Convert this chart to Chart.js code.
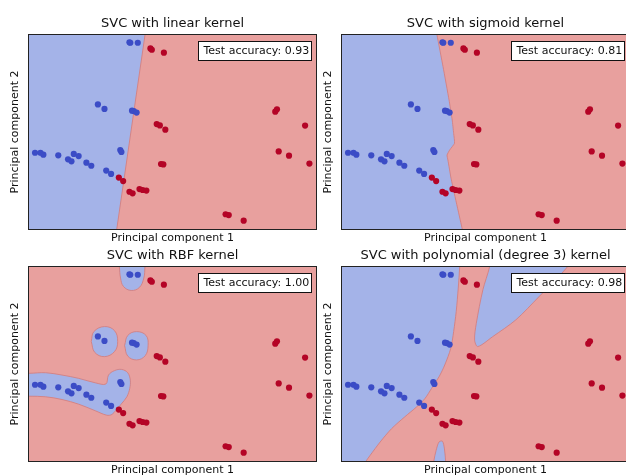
<!DOCTYPE html>
<html>
<head>
<meta charset="utf-8">
<script src="https://cdn.jsdelivr.net/npm/chart.js@4.4.1/dist/chart.umd.min.js"></script>
<style>
  html, body { margin: 0; padding: 0; background: #fff; overflow: hidden; width: 626px; height: 475px; }
  .panel { position: absolute; width: 320px; height: 247px; }
  .panel canvas { display: block; }
</style>
</head>
<body>
<div class="panel" style="left:0;top:0"><canvas id="c0" width="320" height="247"></canvas></div>
<div class="panel" style="left:313px;top:0"><canvas id="c1" width="320" height="247"></canvas></div>
<div class="panel" style="left:0;top:232px"><canvas id="c2" width="320" height="247"></canvas></div>
<div class="panel" style="left:313px;top:232px"><canvas id="c3" width="320" height="247"></canvas></div>
<script>
// ---------- data (PCA plane, arbitrary units 0..10) ----------
const titles = ['SVC with linear kernel', 'SVC with sigmoid kernel', 'SVC with RBF kernel', 'SVC with polynomial (degree 3) kernel'];
const accuracies = ['0.93', '0.81', '1.00', '0.98'];

const blueX = [3.50, 3.53, 3.79, 2.40, 2.63, 3.59, 3.65, 3.75, 0.21, 0.40, 0.50, 1.02, 1.36, 1.48, 1.56, 1.73, 2.00, 2.17, 2.69, 2.86, 3.18, 3.22];
const blueY = [9.62, 9.60, 9.60, 6.42, 6.19, 6.10, 6.08, 6.00, 3.93, 3.93, 3.83, 3.80, 3.59, 3.49, 3.87, 3.76, 3.42, 3.26, 3.01, 2.84, 4.07, 3.97];

const redX = [4.23, 4.28, 4.70, 4.45, 4.56, 4.75, 4.60, 4.68, 3.13, 3.28, 3.50, 3.61, 3.85, 3.96, 4.09, 6.85, 6.96, 7.48, 8.58, 8.64, 9.62, 8.70, 9.06, 9.77];
const redY = [9.31, 9.24, 9.09, 5.41, 5.34, 5.12, 3.35, 3.33, 2.65, 2.47, 1.92, 1.84, 2.06, 2.01, 1.98, 0.76, 0.72, 0.43, 6.05, 6.17, 5.33, 4.00, 3.78, 3.37];

// decision regions predicted as class 0 (blue), outlines
const linearBlueX = [-1, 2.96, 4.14, -1];
const linearBlueY = [-1, -1, 11, 11];

const sigmoidBlueX = [-1, 4.34, 4.19, 3.81, 3.69, 3.66, 3.75, 3.92, 3.89, 3.84, 3.73, 3.52, 3.31, 3.25, -1];
const sigmoidBlueY = [-1, -1, 0, 2.53, 3.56, 3.81, 4.07, 4.42, 4.93, 5.62, 6.65, 8.37, 10, 10.5, 10.5];

const rbfTopX = [3.12, 3.15, 3.19, 3.29, 3.56, 3.85, 4.00, 4.04, 4.06];
const rbfTopY = [10.5, 10.0, 9.43, 9.0, 8.79, 8.95, 9.43, 10.0, 10.5];
const rbfMidLeftX = [2.17, 2.26, 2.63, 2.98, 3.09, 2.98, 2.63, 2.29, 2.17];
const rbfMidLeftY = [6.16, 6.67, 6.93, 6.72, 6.16, 5.64, 5.38, 5.60, 6.16];
const rbfMidRightX = [3.33, 3.44, 3.75, 4.08, 4.15, 4.05, 3.75, 3.44, 3.33];
const rbfMidRightY = [5.95, 6.47, 6.67, 6.47, 5.95, 5.43, 5.21, 5.41, 5.95];
const rbfArmX = [-0.5, 0, 0.58, 1.15, 1.73, 2.31, 2.68, 2.77, 2.98, 3.23, 3.44, 3.53, 3.51, 3.41, 3.21, 3.03, 2.89, 2.71, 2.31, 1.73, 1.15, 0.58, 0, -0.5];
const rbfArmY = [4.52, 4.52, 4.55, 4.43, 4.26, 4.03, 3.97, 4.43, 4.66, 4.72, 4.55, 4.17, 3.74, 3.31, 2.93, 2.62, 2.40, 2.36, 2.59, 2.93, 3.17, 3.31, 3.34, 3.34];

const polyLeftX = [-1, -1, 0.70, 0.84, 0.98, 1.33, 1.73, 2.19, 2.60, 2.89, 3.12, 3.38, 3.58, 3.79, 3.89, 3.98, 4.05, 4.10, 4.13];
const polyLeftY = [11, -1, -0.3, 0, 0.29, 0.98, 1.67, 2.28, 2.79, 3.22, 3.74, 4.34, 4.95, 5.81, 6.67, 7.71, 8.91, 10, 11];
const polyWedgeX = [5.17, 5.14, 4.91, 4.68, 4.62, 4.73, 5.25, 6.06, 6.87, 7.56, 7.85, 8.10];
const polyWedgeY = [10.6, 10, 8.83, 7.10, 6.24, 5.90, 6.41, 7.28, 8.48, 9.52, 10, 10.5];
const polySpikeX = [3.17, 3.20, 3.28, 3.38, 3.50, 3.57, 3.61, 3.63];
const polySpikeY = [-0.5, 0, 0.55, 0.98, 1.02, 0.62, 0, -0.5];

// ---------- styling ----------
const FONT = 'DejaVu Sans';
const blueDot = '#3b4cc6';
const redDot = '#b40426';
const blueRegion = '#a4b3e8';
const redRegion = '#e8a09e';
const edgeColor = 'rgba(212,126,126,0.85)';

function zip(xs, ys) {
  return xs.map((x, i) => ({ x, y: ys[i] }));
}

const panelDeco = {
  id: 'panelDeco',
  beforeDatasetsDraw(chart) {
    const { ctx, chartArea: a } = chart;
    ctx.save();
    ctx.fillStyle = redRegion;
    ctx.fillRect(a.left, a.top, a.right - a.left, a.bottom - a.top);
    ctx.restore();
  },
  afterDraw(chart, args, opts) {
    const { ctx, chartArea: a } = chart;
    ctx.save();
    ctx.strokeStyle = '#222';
    ctx.lineWidth = 1;
    ctx.strokeRect(a.left - 0.5, a.top - 0.5, a.right - a.left + 1, a.bottom - a.top + 1);
    // accuracy box, upper right
    const bx = a.left + 169, by = a.top + 6, bw = (a.right - a.left) - 173, bh = 20;
    ctx.fillStyle = '#fff';
    ctx.fillRect(bx, by, bw, bh);
    ctx.strokeStyle = '#111';
    ctx.strokeRect(bx + 0.5, by + 0.5, bw - 1, bh - 1);
    ctx.fillStyle = '#111';
    ctx.font = '11px "' + FONT + '"';
    ctx.textBaseline = 'middle';
    ctx.fillText(opts.text, bx + 5.5, by + bh / 2 + 0.5);
    ctx.restore();
  }
};

function regionSet(xs, ys, tension) {
  return {
    data: zip(xs, ys),
    showLine: true,
    fill: 'shape',
    backgroundColor: blueRegion,
    borderColor: edgeColor,
    borderWidth: 1,
    pointRadius: 0,
    tension: tension,
    capBezierPoints: false
  };
}

function makeChart(id, idx, regions) {
  const datasets = [
    { data: zip(blueX, blueY), backgroundColor: blueDot, borderWidth: 0, pointRadius: 3.1 },
    { data: zip(redX, redY), backgroundColor: redDot, borderWidth: 0, pointRadius: 3.1 }
  ].concat(regions);

  return new Chart(document.getElementById(id), {
    type: 'scatter',
    data: { datasets },
    options: {
      responsive: false,
      animation: false,
      layout: { padding: { left: 0, right: 2, top: 0, bottom: 0 } },
      plugins: {
        legend: { display: false },
        tooltip: { enabled: false },
        title: {
          display: true,
          fullSize: false,
          text: titles[idx],
          color: '#111',
          font: { family: FONT, size: 13, weight: 'normal' },
          padding: { top: 16.2, bottom: 3.2 }
        },
        panelDeco: { text: 'Test accuracy: ' + accuracies[idx] }
      },
      scales: {
        x: {
          type: 'linear', min: 0, max: 10,
          ticks: { display: false },
          grid: { display: false, drawTicks: false },
          border: { display: false },
          title: {
            display: true, text: 'Principal component 1', color: '#111',
            font: { family: FONT, size: 11 },
            padding: { top: 2.4, bottom: 2.4 }
          }
        },
        y: {
          type: 'linear', min: 0, max: 10,
          ticks: { display: false },
          grid: { display: false, drawTicks: false },
          border: { display: false },
          title: {
            display: true, text: 'Principal component 2', color: '#111',
            font: { family: FONT, size: 11 },
            padding: { top: 8.4, bottom: 7.4 }
          }
        }
      }
    },
    plugins: [panelDeco]
  });
}

makeChart('c0', 0, [regionSet(linearBlueX, linearBlueY, 0)]);
makeChart('c1', 1, [regionSet(sigmoidBlueX, sigmoidBlueY, 0.15)]);
makeChart('c2', 2, [
  regionSet(rbfTopX, rbfTopY, 0.4),
  regionSet(rbfMidLeftX, rbfMidLeftY, 0.4),
  regionSet(rbfMidRightX, rbfMidRightY, 0.4),
  regionSet(rbfArmX, rbfArmY, 0.35)
]);
makeChart('c3', 3, [
  regionSet(polyLeftX, polyLeftY, 0.3),
  regionSet(polyWedgeX, polyWedgeY, 0.3),
  regionSet(polySpikeX, polySpikeY, 0.3)
]);
</script>
</body>
</html>
